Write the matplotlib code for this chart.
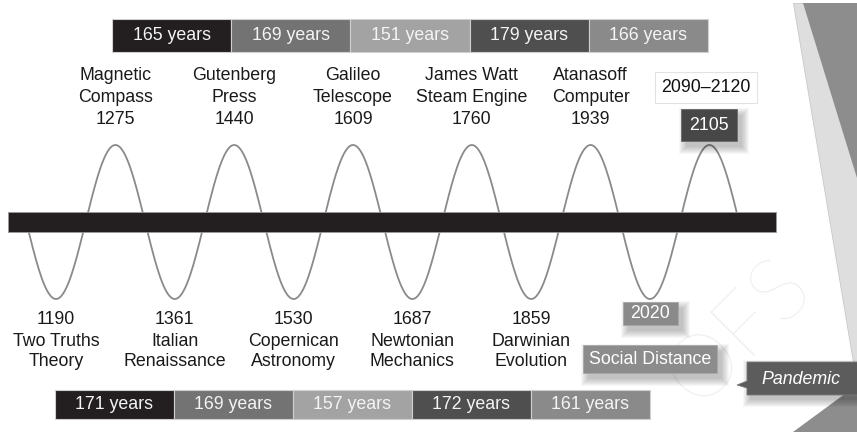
import matplotlib
matplotlib.use("Agg")
import matplotlib.pyplot as plt
from matplotlib.patches import Rectangle, Polygon
import numpy as np

plt.rcParams['font.family'] = ['Liberation Sans', 'DejaVu Sans']

# ---- data ----
top_names = [("Magnetic", "Compass"), ("Gutenberg", "Press"), ("Galileo", "Telescope"),
             ("James Watt", "Steam Engine"), ("Atanasoff", "Computer")]
top_years = [1275, 1440, 1609, 1760, 1939]
bottom_names = [("Two Truths", "Theory"), ("Italian", "Renaissance"), ("Copernican", "Astronomy"),
                ("Newtonian", "Mechanics"), ("Darwinian", "Evolution")]
bottom_years = [1190, 1361, 1530, 1687, 1859]
top_gaps = [165, 169, 151, 179, 166]
bottom_gaps = [171, 169, 157, 172, 161]
gap_colors = ['#231f20', '#737373', '#a3a3a3', '#4f4f4f', '#8a8a8a']
future_range = "2090\u20132120"
future_year = "2105"
present_year = "2020"
present_label = "Social Distance"
callout = "Pandemic"
watermark = "OFS"

# ---- layout (pixel space) ----
W, H = 857, 432
fig = plt.figure(figsize=(W / 100, H / 100), dpi=100)
ax = fig.add_axes([0, 0, 1, 1])
ax.set_xlim(0, W)
ax.set_ylim(H, 0)
ax.axis('off')

FS = 12.8
P = 118.8          # wave period
T0 = 56.0          # first trough
YC = 222.0         # centre line
AMP = 77.0

# right-side decorations
ax.add_patch(Polygon([(793, 3), (857, 3), (857, 362), (853, 362)], closed=True,
                     facecolor='#dedede', edgecolor='#c8c8c8', lw=0.6, zorder=0))
ax.add_patch(Polygon([(803, 3), (857, 3), (857, 178)], closed=True,
                     facecolor='#8d8d8d', lw=0, zorder=0.1))
ax.add_patch(Polygon([(793, 432), (857, 432), (857, 385)], closed=True,
                     facecolor='#8d8d8d', lw=0, zorder=0.1))
# watermark
ax.text(740, 332, watermark, fontsize=64, color='#ececec', rotation=45, ha='center', va='center',
        family=['Lato', 'DejaVu Sans'], fontweight='light', zorder=0.2)

# wave
xw = np.linspace(T0 - P / 4, T0 + 5 * P + 3 * P / 4, 800)
yw = YC + AMP * np.cos(2 * np.pi * (xw - T0) / P)
ax.plot(xw, yw, color='#8a8a8a', lw=1.3, zorder=2, solid_capstyle='round')

# timeline bar
ax.barh(YC, 768, left=8, height=20, color='#231f20', edgecolor='#9a9a9a', lw=0.6, zorder=3)

def shadow(x0, y0, w, h, dx=5, dy=6, layers=8):
    for k in range(layers):
        e = k * 1.0
        ax.add_patch(Rectangle((x0 + dx - e, y0 + dy - e), w + 2 * e, h + 2 * e,
                               facecolor='black', alpha=0.03, lw=0, zorder=4))

# gap bars
top_left, top_right = 112.0, 708.0
bot_left, bot_right = 55.0, 650.0
tw = (top_right - top_left) / len(top_gaps)
bw = (bot_right - bot_left) / len(bottom_gaps)
ax.barh([35.5] * 5, [tw] * 5, left=[top_left + i * tw for i in range(5)], height=32.5,
        color=gap_colors, edgecolor='#d0d0d0', lw=0.8, zorder=5)
ax.barh([404.5] * 5, [bw] * 5, left=[bot_left + i * bw for i in range(5)], height=29.5,
        color=gap_colors, edgecolor='#d0d0d0', lw=0.8, zorder=5)
for i, g in enumerate(top_gaps):
    ax.text(top_left + (i + 0.5) * tw, 35.5, f"{g} years", ha='center', va='center',
            color='#f4f4f4', fontsize=FS, zorder=6)
for i, g in enumerate(bottom_gaps):
    ax.text(bot_left + (i + 0.5) * bw, 404.5, f"{g} years", ha='center', va='center',
            color='#f4f4f4', fontsize=FS, zorder=6)

# event labels
for i, ((a, b), yr) in enumerate(zip(top_names, top_years)):
    x = T0 + P * (i + 0.5)
    for txt, y in zip((a, b, str(yr)), (75, 97.5, 120)):
        ax.text(x, y, txt, ha='center', va='center', fontsize=FS, color='#1a1a1a', zorder=6)
for i, ((a, b), yr) in enumerate(zip(bottom_names, bottom_years)):
    x = T0 + P * i
    for txt, y in zip((str(yr), a, b), (319, 341, 362)):
        ax.text(x, y, txt, ha='center', va='center', fontsize=FS, color='#1a1a1a', zorder=6)

# future boxes
ax.add_patch(Rectangle((655, 72), 102, 31, facecolor='white', edgecolor='#e2e2e2', lw=0.8, zorder=5))
ax.text(706, 87.5, future_range, ha='center', va='center', fontsize=FS, color='#111111', zorder=6)
shadow(681, 109, 56, 32)
ax.add_patch(Rectangle((681, 109), 56, 32, facecolor='#474747', edgecolor='#6a6a6a', lw=0.6, zorder=5))
ax.text(709, 125, future_year, ha='center', va='center', fontsize=FS, color='white', zorder=6)

# present boxes
shadow(623, 302, 55, 23)
ax.add_patch(Rectangle((623, 302), 55, 23, facecolor='#8a8a8a', edgecolor='#a8a8a8', lw=0.6, zorder=5))
ax.text(650.5, 313.5, present_year, ha='center', va='center', fontsize=FS, color='white', zorder=6)
shadow(583, 345, 134, 28)
ax.add_patch(Rectangle((583, 345), 134, 28, facecolor='#8c8c8c', edgecolor='#a8a8a8', lw=0.6, zorder=5))
ax.text(650, 359, present_label, ha='center', va='center', fontsize=FS, color='white', zorder=6)

# callout
shadow(747, 362, 112, 33, dx=3, dy=5)
ax.add_patch(Polygon([(747, 362), (860, 362), (860, 395), (747, 395), (747, 388),
                      (737, 385), (747, 381)], closed=True,
                     facecolor='#5c5c5c', edgecolor='#7a7a7a', lw=0.6, zorder=5))
ax.text(801, 379, callout, ha='center', va='center', fontsize=FS, color='white',
        style='italic', zorder=6)

fig.savefig("out.png", dpi=100)
